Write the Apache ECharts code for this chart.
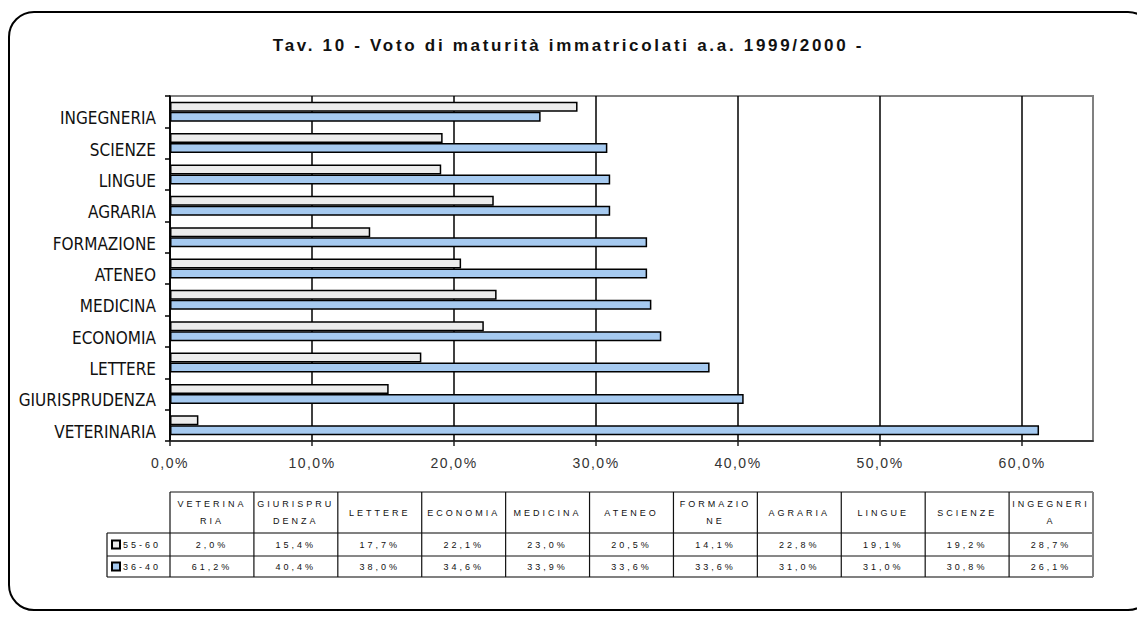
<!DOCTYPE html>
<html>
<head>
<meta charset="utf-8">
<script src="https://cdn.jsdelivr.net/npm/echarts@6/dist/echarts.min.js"></script>
<style>
  html, body { margin: 0; padding: 0; background: #fff; }
  #chart { width: 1137px; height: 624px; }
  /* spaced lettering for the title, the value axis and the data table */
  #chart text[style*="bold"] { letter-spacing: 2.7px; }
  #chart text[style*="14px"] { letter-spacing: 1.5px; }
  #chart text[style*="9px"] { letter-spacing: 3px; }
</style>
</head>
<body>
<div id="chart"></div>
<script>
// Faculties, bottom to top on the chart and left to right in the table
const faculties = ['VETERINARIA', 'GIURISPRUDENZA', 'LETTERE', 'ECONOMIA', 'MEDICINA', 'ATENEO',
  'FORMAZIONE', 'AGRARIA', 'LINGUE', 'SCIENZE', 'INGEGNERIA'];
// Table header text, wrapped as it is printed in the cells
const headerLabels = ['VETERINA\nRIA', 'GIURISPRU\nDENZA', 'LETTERE', 'ECONOMIA', 'MEDICINA', 'ATENEO',
  'FORMAZIO\nNE', 'AGRARIA', 'LINGUE', 'SCIENZE', 'INGEGNERI\nA'];
// Grade bands (voto di maturità)
const bandNames = ['55-60', '36-40'];
// Share of enrolled students in each band, %
const band5560 = [2.0, 15.4, 17.7, 22.1, 23.0, 20.5, 14.1, 22.8, 19.1, 19.2, 28.7];
const band3640 = [61.2, 40.4, 38.0, 34.6, 33.9, 33.6, 33.6, 31.0, 31.0, 30.8, 26.1];
// Value axis
const axisMin = 0, axisMax = 65, axisStep = 10;

const titleText = 'Tav. 10 - Voto di maturità immatricolati a.a. 1999/2000 -';
const bandColors = ['#ececec', '#a6caf0'];

const W = 1137, H = 624;
const gridLeft = 170, gridRight = 44, gridTop = 96, gridBottom = 183;

const pct = v => v.toFixed(1).replace('.', ',') + '%';

// ---- data table under the chart ----
function buildTable() {
  const els = [];
  const x0 = gridLeft, x1 = W - gridRight;
  const colW = (x1 - x0) / faculties.length;
  const headTop = 492, row1 = 533, row2 = 556, bottom = 577, legLeft = 107;
  const dark = '#111', grey = '#808080';
  const line = (xa, ya, xb, yb, c, w) => els.push({
    type: 'line', silent: true,
    shape: { x1: xa, y1: ya, x2: xb, y2: yb },
    style: { stroke: c, lineWidth: w }
  });
  const txt = (t, x, y, align) => els.push({
    type: 'text', silent: true,
    style: { text: t, x: x, y: y, fill: '#111', align: align || 'center', verticalAlign: 'middle',
      fontSize: 9, fontFamily: 'Liberation Sans, Arial, sans-serif', lineHeight: 17 }
  });
  // horizontal rules
  line(x0, headTop, x1, headTop, dark, 1);
  line(legLeft, row1, x1, row1, grey, 2);
  line(legLeft, row2, x1, row2, dark, 1);
  line(legLeft, bottom, x1, bottom, grey, 2);
  // vertical rules
  line(legLeft, row1, legLeft, bottom, dark, 1.2);
  for (let i = 0; i <= faculties.length; i++) {
    const x = x0 + i * colW;
    const last = i === faculties.length;
    line(x, headTop, x, bottom, last ? grey : dark, last ? 2 : 1.2);
  }
  // headers and values
  const rows = [band5560, band3640];
  for (let i = 0; i < faculties.length; i++) {
    const cx = x0 + (i + 0.5) * colW;
    txt(headerLabels[i], cx, (headTop + row1) / 2);
    txt(pct(rows[0][i]), cx, (row1 + row2) / 2);
    txt(pct(rows[1][i]), cx, (row2 + bottom) / 2);
  }
  // legend keys
  [[row1, row2], [row2, bottom]].forEach((r, k) => {
    const cy = (r[0] + r[1]) / 2;
    els.push({
      type: 'rect', silent: true,
      shape: { x: legLeft + 5, y: cy - 4, width: 8, height: 8 },
      style: { fill: bandColors[k], stroke: '#000', lineWidth: 2 }
    });
    txt(bandNames[k], legLeft + 16, cy, 'left');
  });
  return els;
}

const chart = echarts.init(document.getElementById('chart'), null, { renderer: 'svg', width: W, height: H });

const barSeries = [band5560, band3640].map((vals, k) => ({
  name: bandNames[k],
  type: 'bar',
  data: vals,
  barWidth: 10,
  barGap: '0%',
  itemStyle: { color: bandColors[k], borderColor: '#000', borderWidth: 1.5 },
  emphasis: { disabled: true }
}));

chart.setOption({
  backgroundColor: '#fff',
  animation: false,
  title: {
    text: titleText,
    left: 'center',
    top: 32,
    textStyle: { fontSize: 17, fontWeight: 'bold', fontFamily: 'Liberation Sans, Arial, sans-serif', color: '#111' }
  },
  grid: {
    left: gridLeft, right: gridRight, top: gridTop, bottom: gridBottom,
    show: true, borderColor: '#808080', borderWidth: 2, backgroundColor: '#fff'
  },
  xAxis: {
    type: 'value',
    min: axisMin, max: axisMax, interval: axisStep,
    axisLine: { show: true, lineStyle: { color: '#222', width: 1.5 } },
    axisTick: { show: true, length: 5, lineStyle: { color: '#222', width: 1.5 } },
    splitLine: { show: true, showMaxLine: false, lineStyle: { color: '#000', width: 1.5 } },
    axisLabel: {
      margin: 15, showMaxLabel: false,
      fontSize: 14, fontFamily: 'Liberation Sans, Arial, sans-serif', color: '#333',
      formatter: v => (v % axisStep === 0 ? pct(v) : '')
    }
  },
  yAxis: {
    type: 'category',
    data: faculties,
    axisLine: { show: true, lineStyle: { color: '#000', width: 1.5 } },
    axisTick: { show: true, length: 5, lineStyle: { color: '#000', width: 1.5 } },
    splitLine: { show: false },
    axisLabel: {
      margin: 14, fontSize: 17, color: '#111',
      fontFamily: 'Liberation Sans Narrow, DejaVu Sans Condensed, Arial Narrow, sans-serif',
      verticalAlign: 'top', lineHeight: 13
    }
  },
  series: barSeries,
  graphic: [
    {
      type: 'rect', silent: true, z: -1,
      shape: { x: 9, y: 12, width: 1144, height: 598, r: 25 },
      style: { fill: 'none', stroke: '#000', lineWidth: 2 }
    }
  ].concat(buildTable())
});
</script>
</body>
</html>
